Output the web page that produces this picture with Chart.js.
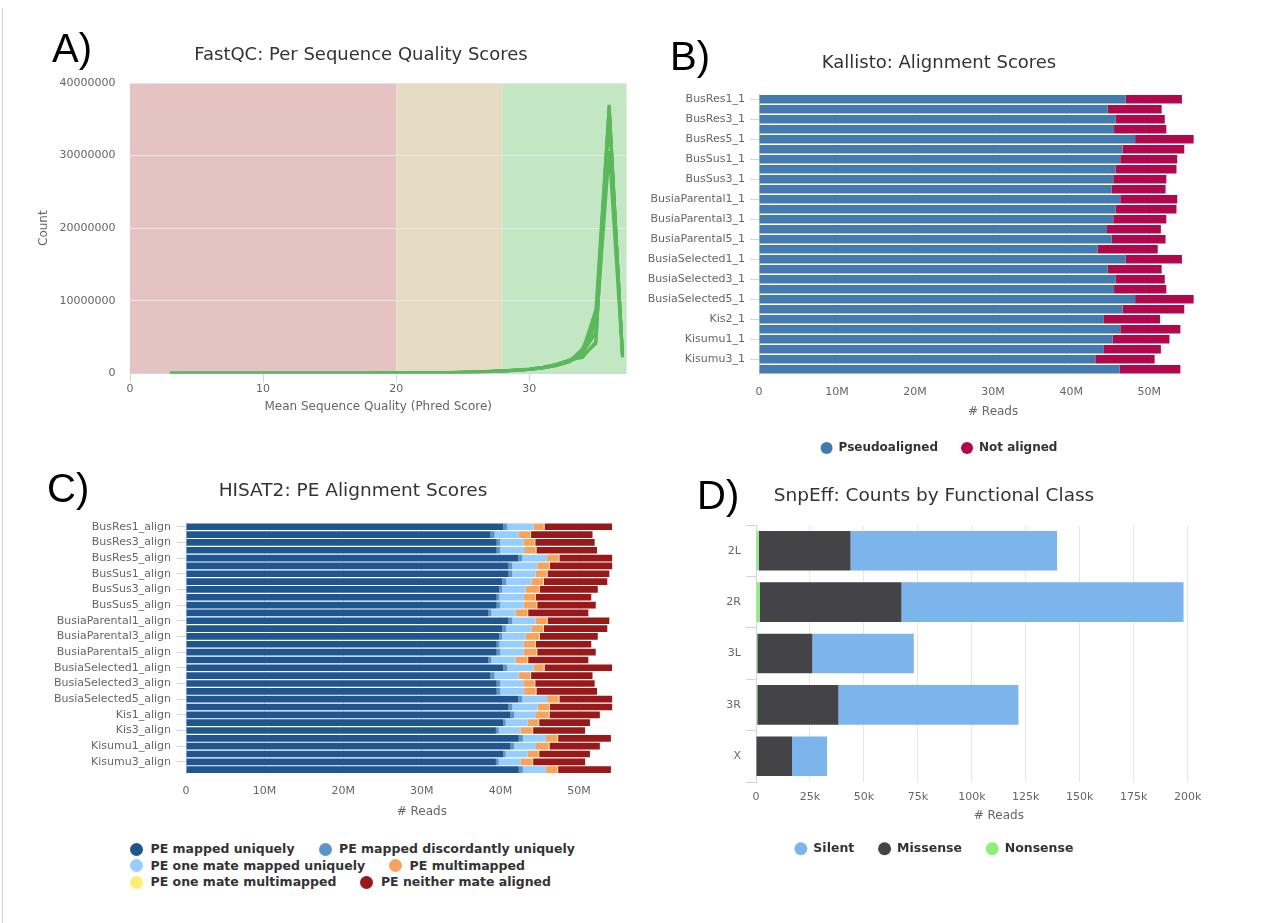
<!DOCTYPE html>
<html>
<head>
<meta charset="utf-8">
<title>MultiQC summary panels</title>
<script src="https://cdn.jsdelivr.net/npm/chart.js@4.4.0/dist/chart.umd.min.js"></script>
<style>
  body { margin: 0; background: #fff; width: 1282px; height: 923px; position: relative; overflow: hidden; font-family: 'DejaVu Sans', sans-serif; }
  canvas { position: absolute; }
  .panel-tag { position: absolute; font-family: 'Liberation Sans', Arial, sans-serif; font-size: 40px; line-height: 40px; color: #000; }
  #frame { position: absolute; left: 2px; top: 8px; width: 1px; height: 915px; background: #cfcfcf; }
  #hisatLegend { position: absolute; left: 130px; top: 841px; width: 470px; display: flex; flex-wrap: wrap; column-gap: 24px;
                 font: bold 12.5px 'DejaVu Sans', sans-serif; color: #333; line-height: 16.5px; }
  .leg-item { display: flex; align-items: center; white-space: nowrap; }
  .leg-dot { width: 13px; height: 13px; border-radius: 50%; margin-right: 7.5px; }
</style>
</head>
<body>
<div id="frame"></div>
<canvas id="fastqcChart" width="722" height="400" style="left:0;top:30px"></canvas>
<canvas id="kallistoChart" width="598" height="434" style="left:640px;top:30px"></canvas>
<canvas id="hisatChart" width="706" height="370" style="left:0;top:460px"></canvas>
<canvas id="snpeffChart" width="648" height="405" style="left:610px;top:460px"></canvas>
<div id="hisatLegend"></div>
<div class="panel-tag" style="left:52px;top:28px">A)</div>
<div class="panel-tag" style="left:670px;top:36px">B)</div>
<div class="panel-tag" style="left:47px;top:468px">C)</div>
<div class="panel-tag" style="left:697px;top:475px">D)</div>

<script>
// ----------- DATA : FastQC ------------
const qualScores = [3,4,5,6,7,8,9,10,11,12,13,14,15,16,17,18,19,20,21,22,23,24,25,26,27,28,29,30,31,32,33,34,35,36,37];
const fastqcS1 = [1200,2100,2900,3600,4400,5200,6100,7000,8200,9500,11000,12800,14900,17300,20100,23600,29000,36000,45000,57000,74000,
                  95000,130000,180000,250000,330000,430000,560000,780000,1150000,1750000,3100000,8800000,37000000,2400000];
const fastqcS2 = [1100,1900,2700,3400,4100,4900,5800,6700,7800,9100,10500,12200,14300,16600,19300,22700,28000,34500,43000,55000,71000,
                  90000,122000,170000,236000,315000,410000,530000,740000,1080000,1620000,2600000,6800000,36600000,2300000];
const fastqcS3 = [1300,2200,3000,3800,4600,5500,6400,7400,8600,10000,11600,13500,15700,18200,21200,24900,31000,38500,48000,61000,79000,
                  105000,142000,195000,268000,355000,460000,600000,830000,1220000,1850000,2150000,4400000,35900000,2600000];
const fastqcS4 = [1250,2000,2800,3500,4300,5100,6000,6900,8000,9300,10800,12500,14600,17000,19800,23200,28800,35500,44500,56500,73000,
                  98000,135000,186000,255000,340000,445000,575000,800000,1180000,1790000,2800000,5600000,30600000,2200000];
const fastqcS5 = [1000,1800,2600,3300,4000,4800,5600,6500,7600,8800,10200,11900,13900,16100,18800,22100,27200,33600,42000,53500,69000,
                  88000,120000,166000,230000,305000,400000,520000,720000,1050000,1580000,3400000,7600000,36900000,2500000];
const fastqcS6 = [1150,2000,2800,3500,4200,5000,5900,6800,7900,9200,10600,12300,14400,16800,19500,23000,28400,35000,43800,55800,72000,
                  93000,128000,176000,244000,325000,425000,550000,765000,1120000,1700000,2400000,4100000,36300000,2350000];
const fastqcSamples = [fastqcS1, fastqcS2, fastqcS3, fastqcS4, fastqcS5, fastqcS6];
const bandEdges = [0, 20, 28, 37.3];
const bandColors = ['#e6c3c3', '#e6dcc3', '#c3e6c3'];

// ----------- DATA : Kallisto (millions of reads) ------------
const kallistoSamples = ['BusRes1_1','BusRes2_1','BusRes3_1','BusRes4_1','BusRes5_1','BusRes6_1',
  'BusSus1_1','BusSus2_1','BusSus3_1','BusSus4_1',
  'BusiaParental1_1','BusiaParental2_1','BusiaParental3_1','BusiaParental4_1','BusiaParental5_1','BusiaParental6_1',
  'BusiaSelected1_1','BusiaSelected2_1','BusiaSelected3_1','BusiaSelected4_1','BusiaSelected5_1','BusiaSelected6_1',
  'Kis2_1','Kis3_1','Kisumu1_1','Kisumu2_1','Kisumu3_1','Kisumu4_1'];
const pseudoaligned = [47.0,44.7,45.7,45.5,48.2,46.6,46.3,45.7,45.4,45.2,46.3,45.7,45.4,44.6,45.2,43.4,
                       47.0,44.7,45.7,45.5,48.2,46.6,44.2,46.3,45.3,44.2,43.1,46.2];
const notAligned = [7.2,6.9,6.3,6.7,7.5,7.9,7.3,7.8,6.8,6.9,7.3,7.8,6.8,6.9,6.9,7.7,
                    7.2,6.9,6.3,6.7,7.5,7.9,7.2,7.7,7.3,7.3,7.6,7.8];

// ----------- DATA : HISAT2 (millions of reads) ------------
const hisatSamples = ['BusRes1_align','BusRes2_align','BusRes3_align','BusRes4_align','BusRes5_align','BusRes6_align',
  'BusSus1_align','BusSus2_align','BusSus3_align','BusSus4_align','BusSus5_align','BusSus6_align',
  'BusiaParental1_align','BusiaParental2_align','BusiaParental3_align','BusiaParental4_align','BusiaParental5_align','BusiaParental6_align',
  'BusiaSelected1_align','BusiaSelected2_align','BusiaSelected3_align','BusiaSelected4_align','BusiaSelected5_align','BusiaSelected6_align',
  'Kis1_align','Kis2_align','Kis3_align','Kis4_align','Kisumu1_align','Kisumu2_align','Kisumu3_align','Kisumu4_align'];
const peUnique = [40.36,38.75,39.53,39.53,42.29,41.04, 41.04,40.21,39.84,39.53,39.53,38.49,
                  41.04,40.21,39.84,39.53,39.53,38.49, 40.36,38.75,39.53,39.53,42.29,41.04,
                  41.30,40.36,39.43,42.34, 41.30,40.36,39.43,42.34];
const peDiscordant = [0.52,0.52,0.42,0.42,0.47,0.47, 0.47,0.52,0.36,0.36,0.42,0.36,
                      0.47,0.52,0.36,0.36,0.42,0.36, 0.52,0.52,0.42,0.42,0.47,0.47,
                      0.47,0.31,0.36,0.52, 0.47,0.31,0.36,0.52];
const peOneMateUnique = [3.33,3.07,2.97,3.07,3.18,3.23, 2.97,3.23,3.02,3.07,3.02,3.07,
                         2.97,3.23,3.02,3.07,3.02,3.07, 3.33,3.07,2.97,3.07,3.18,3.23,
                         2.76,2.81,2.76,2.92, 2.76,2.81,2.76,2.92];
const peMultimapped = [1.30,1.46,1.41,1.46,1.46,1.46, 1.41,1.46,1.67,1.46,1.61,1.51,
                       1.41,1.46,1.67,1.46,1.61,1.51, 1.30,1.46,1.41,1.46,1.46,1.46,
                       1.61,1.35,1.51,1.46, 1.61,1.35,1.51,1.46];
const peOneMateMulti = [0.1,0.1,0.1,0.1,0.1,0.1, 0.1,0.1,0.1,0.1,0.1,0.1,
                        0.1,0.1,0.1,0.1,0.1,0.1, 0.1,0.1,0.1,0.1,0.1,0.1,
                        0.1,0.1,0.1,0.1, 0.1,0.1,0.1,0.1];
const peNeither = [8.60,7.82,7.56,7.71,6.72,7.92, 7.87,8.08,7.40,7.04,7.45,7.66,
                   7.87,8.08,7.40,7.04,7.45,7.66, 8.60,7.82,7.56,7.71,6.72,7.92,
                   6.41,6.46,6.62,6.72, 6.41,6.46,6.62,6.72];

// ----------- DATA : SnpEff ------------
const chromosomes = ['2L', '2R', '3L', '3R', 'X'];
const silentCounts = [95700, 130700, 47000, 83400, 16200];
const missenseCounts = [42500, 65700, 25500, 37600, 16500];
const nonsenseCounts = [1300, 1700, 600, 600, 200];

// ----------- HELPER ------------
const clear = 'rgba(0,0,0,0)';

function titleOpts(text, size, top, bottom) {
  return { display: true, text: text, color: '#333', font: { size: size, weight: 'normal' }, padding: { top: top, bottom: bottom } };
}

// empty axis on the right: keeps the title centred on the whole canvas
function rightGap(w) {
  return { type: 'linear', position: 'right', afterFit: s => { s.width = w; },
           ticks: { display: false }, grid: { display: false }, border: { display: false } };
}

// draws the red / orange / green quality zones behind the FastQC lines
const bandPlugin = {
  id: 'qualityBands',
  beforeDraw(chart) {
    const { ctx, chartArea, scales } = chart;
    ctx.save();
    for (let i = 0; i < bandColors.length; i++) {
      const x0 = scales.x.getPixelForValue(bandEdges[i]);
      const x1 = scales.x.getPixelForValue(bandEdges[i + 1]);
      ctx.fillStyle = bandColors[i];
      ctx.fillRect(x0, chartArea.top, x1 - x0, chartArea.bottom - chartArea.top);
    }
    ctx.restore();
  }
};

// ----------- CHARTS ------------
function fastqc_chart() {
  const datasets = fastqcSamples.map(s => ({
    data: qualScores.map((q, i) => ({ x: q, y: s[i] })),
    borderColor: '#5cb85c', borderWidth: 3, pointRadius: 0, fill: false, tension: 0
  }));
  new Chart(document.getElementById('fastqcChart'), {
    type: 'line',
    data: { datasets: datasets },
    plugins: [bandPlugin],
    options: {
      responsive: false, animation: false,
      plugins: {
        legend: { display: false }, tooltip: { enabled: false },
        title: titleOpts('FastQC: Per Sequence Quality Scores', 18, 14.2, 17.2)
      },
      scales: {
        x: {
          type: 'linear', min: 0, max: 37.3,
          afterFit: s => { s.height = 56.7; },
          ticks: { stepSize: 10, includeBounds: false, padding: 0, color: '#666', font: { size: 11 } },
          grid: { drawOnChartArea: false, tickLength: 9, tickColor: '#ccd6eb' },
          border: { color: '#ccd6eb' },
          title: { display: true, text: 'Mean Sequence Quality (Phred Score)', color: '#666', font: { size: 12 }, padding: { bottom: 15.8 } }
        },
        y: {
          min: 0, max: 40000000,
          afterFit: s => { s.width = 130; },
          ticks: { stepSize: 10000000, padding: 14.5, color: '#666', font: { size: 11 }, callback: v => String(v) },
          grid: { color: '#e6e6e6', drawTicks: false },
          border: { display: false },
          title: { display: true, text: 'Count', color: '#666', font: { size: 12 }, padding: { top: 36.8 } }
        },
        gap: rightGap(95.5)
      }
    }
  });
}

function kallisto_chart() {
  new Chart(document.getElementById('kallistoChart'), {
    type: 'bar',
    data: {
      labels: kallistoSamples,
      datasets: [
        { label: 'Pseudoaligned', data: pseudoaligned, backgroundColor: '#437bb1' },
        { label: 'Not aligned', data: notAligned, backgroundColor: '#b1084c' }
      ]
    },
    options: {
      indexAxis: 'y', responsive: false, animation: false,
      datasets: { bar: { barPercentage: 0.84, categoryPercentage: 1 } },
      plugins: {
        tooltip: { enabled: false },
        title: titleOpts('Kallisto: Alignment Scores', 18, 22.2, 20.5),
        legend: {
          position: 'bottom',
          labels: { usePointStyle: true, pointStyle: 'circle', boxWidth: 12, boxHeight: 8.5, padding: 23,
                    color: '#333', font: { size: 12, weight: 'bold' } }
        }
      },
      scales: {
        x: {
          stacked: true, min: 0, max: 60,
          afterFit: s => { s.height = 44.7; },
          ticks: { stepSize: 10, padding: 10.8, color: '#666', font: { size: 11 },
                   callback: v => v === 0 ? '0' : (v === 60 ? '' : v + 'M') },
          grid: { color: c => (c.tick && c.tick.value === 60) ? clear : '#e6e6e6', drawTicks: false },
          border: { display: false },
          title: { display: true, text: '# Reads', color: '#666', font: { size: 12 }, padding: { bottom: 0 } }
        },
        y: {
          stacked: true,
          afterFit: s => { s.width = 119; },
          ticks: { autoSkip: false, padding: 5, color: '#666', font: { size: 11 },
                   callback: (v, i) => i % 2 === 0 ? kallistoSamples[i] : '' },
          grid: { drawOnChartArea: false, offset: false, tickLength: 9,
                  tickColor: c => c.index % 2 === 0 ? '#ccd6eb' : clear },
          border: { color: '#ccd6eb' }
        },
        gap: rightGap(7.4)
      }
    }
  });
}

function hisat_chart() {
  const series = [
    ['PE mapped uniquely', peUnique, '#20568f'],
    ['PE mapped discordantly uniquely', peDiscordant, '#5c94ca'],
    ['PE one mate mapped uniquely', peOneMateUnique, '#95ceff'],
    ['PE multimapped', peMultimapped, '#f7a35c'],
    ['PE one mate multimapped', peOneMateMulti, '#ffeb75'],
    ['PE neither mate aligned', peNeither, '#981919']
  ];
  const chart = new Chart(document.getElementById('hisatChart'), {
    type: 'bar',
    data: {
      labels: hisatSamples,
      datasets: series.map(s => ({ label: s[0], data: s[1], backgroundColor: s[2] }))
    },
    options: {
      indexAxis: 'y', responsive: false, animation: false,
      datasets: { bar: { barPercentage: 0.85, categoryPercentage: 1 } },
      plugins: {
        tooltip: { enabled: false },
        legend: { display: false },
        title: titleOpts('HISAT2: PE Alignment Scores', 18.5, 19.9, 20.7)
      },
      scales: {
        x: {
          stacked: true, min: 0, max: 60,
          afterFit: s => { s.height = 56.4; },
          ticks: { stepSize: 10, padding: 10.8, color: '#666', font: { size: 11 },
                   callback: v => v === 0 ? '0' : (v === 60 ? '' : v + 'M') },
          grid: { color: c => (c.tick && c.tick.value === 60) ? clear : '#e6e6e6', drawTicks: false },
          border: { display: false },
          title: { display: true, text: '# Reads', color: '#666', font: { size: 12 }, padding: { bottom: 10.8 } }
        },
        y: {
          stacked: true,
          afterFit: s => { s.width = 186; },
          ticks: { autoSkip: false, padding: 6, color: '#666', font: { size: 11 },
                   callback: (v, i) => i % 2 === 0 ? hisatSamples[i] : '' },
          grid: { drawOnChartArea: false, offset: false, tickLength: 9,
                  tickColor: c => c.index % 2 === 0 ? '#ccd6eb' : clear },
          border: { color: '#ccd6eb' }
        },
        gap: rightGap(48.4)
      }
    }
  });

  // legend in left-aligned rows, built from the chart datasets
  const box = document.getElementById('hisatLegend');
  chart.data.datasets.forEach(ds => {
    const item = document.createElement('div');
    item.className = 'leg-item';
    const dot = document.createElement('span');
    dot.className = 'leg-dot';
    dot.style.background = ds.backgroundColor;
    item.appendChild(dot);
    item.appendChild(document.createTextNode(ds.label));
    box.appendChild(item);
  });
}

function snpeff_chart() {
  new Chart(document.getElementById('snpeffChart'), {
    type: 'bar',
    data: {
      labels: chromosomes,
      datasets: [
        { label: 'Nonsense', data: nonsenseCounts, backgroundColor: '#90ed7d' },
        { label: 'Missense', data: missenseCounts, backgroundColor: '#434348' },
        { label: 'Silent', data: silentCounts, backgroundColor: '#7cb5ec' }
      ]
    },
    options: {
      indexAxis: 'y', responsive: false, animation: false,
      datasets: { bar: { barPercentage: 0.77, categoryPercentage: 1 } },
      plugins: {
        tooltip: { enabled: false },
        title: titleOpts('SnpEff: Counts by Functional Class', 18.5, 24.9, 17.9),
        legend: {
          position: 'bottom',
          labels: { usePointStyle: true, pointStyle: 'circle', boxWidth: 12.5, boxHeight: 9.2, padding: 24,
                    color: '#333', font: { size: 12.5, weight: 'bold' },
                    sort: (a, b) => b.datasetIndex - a.datasetIndex }
        }
      },
      scales: {
        x: {
          stacked: true, min: 0, max: 225000,
          afterFit: s => { s.height = 36.5; },
          ticks: { stepSize: 25000, padding: 8.4, color: '#666', font: { size: 11 },
                   callback: v => v === 0 ? '0' : (v === 225000 ? '' : (v / 1000) + 'k') },
          grid: { color: c => (c.tick && c.tick.value === 225000) ? clear : '#e6e6e6', drawTicks: false },
          border: { display: false },
          title: { display: true, text: '# Reads', color: '#666', font: { size: 12 }, padding: { bottom: -4.7 } }
        },
        y: {
          stacked: true,
          afterFit: s => { s.width = 146; },
          ticks: { padding: 5, color: '#666', font: { size: 11 } },
          grid: { drawOnChartArea: false, offset: true, tickLength: 10, tickColor: '#ccd6eb' },
          border: { color: '#ccd6eb' }
        },
        gap: rightGap(16.4)
      }
    }
  });
}

// ----------- MAIN ------------
function main() {
  Chart.defaults.font.family = "'DejaVu Sans', sans-serif";
  Chart.defaults.color = '#666';
  fastqc_chart();
  kallisto_chart();
  hisat_chart();
  snpeff_chart();
}

document.addEventListener('DOMContentLoaded', function() {
  main();
});
</script>
</body>
</html>
